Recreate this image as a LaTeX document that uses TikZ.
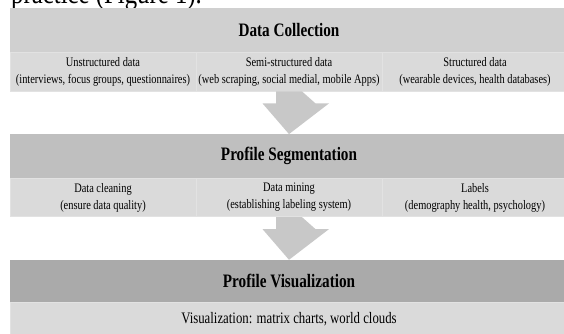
\documentclass[tikz,border=0pt]{standalone}
\usepackage{fontspec}
\setmainfont{Liberation Serif}[FakeStretch=0.8]
\usetikzlibrary{calc}
\definecolor{hdA}{RGB}{208,208,208}
\definecolor{hdB}{RGB}{191,191,191}
\definecolor{hdC}{RGB}{170,170,170}
\definecolor{cellc}{RGB}{218,218,218}
\definecolor{celledge}{RGB}{226,226,226}
\definecolor{arrowc}{RGB}{200,200,200}
\tikzset{
  band/.style={rectangle, inner sep=0pt, minimum width=558pt, font=\fontsize{19}{22}\selectfont\bfseries},
  cell/.style={rectangle, inner sep=0pt, fill=cellc, draw=celledge, line width=0.8pt,
    minimum width=186pt, align=center, font=\fontsize{13}{17}\selectfont},
  blockarrow/.style={fill=arrowc},
}
\begin{document}
\begin{tikzpicture}[x=1pt,y=-1pt]
\useasboundingbox (0,0) rectangle (564,334);
\clip (0,0) rectangle (564,334);
\node[anchor=base west, font=\fontsize{31}{34}\selectfont, inner sep=0pt] (title) at (11,4) {practice (Figure 1).};
% band 1
\node[band, fill=hdA, minimum height=43.7pt] (h1) at (289,30.15) {Data Collection};
\node[cell, minimum height=39pt] (c11) at (103,71.5) {Unstructured data\\(interviews, focus groups, questionnaires)};
\node[cell, minimum height=39pt] (c12) at (289,71.5) {Semi-structured data\\(web scraping, social medial, mobile Apps)};
\node[cell, minimum height=39pt] (c13) at (475,71.5) {Structured data\\(wearable devices, health databases)};
% band 2
\node[band, fill=hdB, minimum height=44pt] (h2) at (289,156.3) {Profile Segmentation};
\node[cell, minimum height=38.4pt] (c21) at (103,197.5) {Data cleaning\\(ensure data quality)};
\node[cell, minimum height=38.4pt] (c22) at (289,197.5) {Data mining\\(establishing labeling system)};
\node[cell, minimum height=38.4pt] (c23) at (475,197.5) {Labels\\(demography health, psychology)};
% band 3
\node[band, fill=hdC, minimum height=42pt] (h3) at (289,281) {Profile Visualization};
\node[cell, minimum width=558pt, minimum height=34pt, font=\fontsize{16}{19}\selectfont] (c31) at (289,319) {Visualization: matrix charts, world clouds};
% arrows
\fill[blockarrow] ($(c12.south)+(-13,0)$) -- ++(0,12) -- ++(-13.5,0) -- (h2.north) -- ($(c12.south)+(40,12)$) -- ++(-13.5,0) -- ($(c12.south)+(13,0)$) -- cycle;
\fill[blockarrow] ($(c22.south)+(-13,0)$) -- ++(0,12) -- ++(-13.5,0) -- (h3.north) -- ($(c22.south)+(40,12)$) -- ++(-13.5,0) -- ($(c22.south)+(13,0)$) -- cycle;
\end{tikzpicture}
\end{document}
